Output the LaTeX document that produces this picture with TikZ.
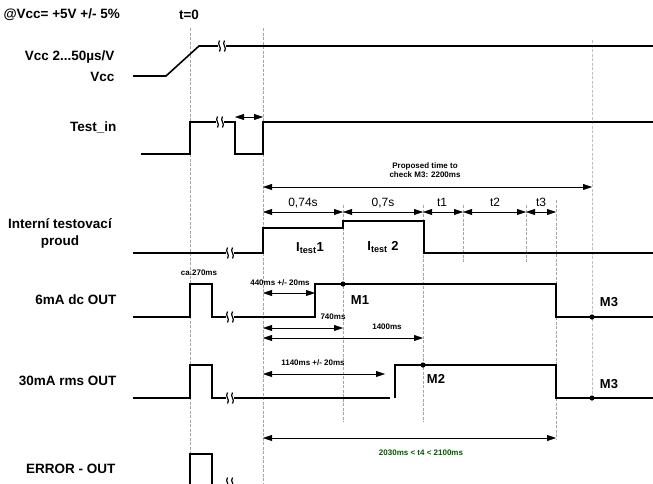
\documentclass[tikz,border=0pt]{standalone}
\usepackage{fontspec}
\setmainfont{Liberation Sans}
\usetikzlibrary{arrows.meta}

\begin{document}
\begin{tikzpicture}[x=1pt,y=-1pt,>={Triangle[length=9pt,width=6pt]},
  sig/.style={line width=1.6pt},
  guide/.style={black!35,line width=0.4pt,dash pattern=on 3pt off 1.5pt},
  dim/.style={<->,line width=0.45pt},
  lbl/.style={font=\fontsize{13.5}{17}\selectfont\bfseries},
  tim/.style={font=\fontsize{12}{14}\selectfont},
  sml/.style={font=\fontsize{8}{9.5}\selectfont\bfseries},
  mk/.style={font=\fontsize{13}{15}\selectfont\bfseries},
  brk/.pic={\fill[white] (-4,-5) rectangle (4,5);
    \draw[line width=1.2pt] (-2.5,-5.5) .. controls (-5.5,-1.5) and (0.5,1.5) .. (-2.5,5.5);
    \draw[line width=1.2pt] (2.5,-5.5) .. controls (-0.5,-1.5) and (5.5,1.5) .. (2.5,5.5);}]
  \useasboundingbox (0,0) rectangle (653,483);
  % pomocne cary
  \draw[guide] (190,28)--(190,483);
  \draw[guide] (263,28)--(263,483);
  \draw[guide] (343,205)--(343,422);
  \draw[guide] (423,205)--(423,422);
  \draw[guide] (463,205)--(463,262);
  \draw[guide] (526,205)--(526,262);
  \draw[guide] (556,200)--(556,440);
  \draw[guide,black!25,line width=0.8pt] (592,40)--(592,400);
  % popisky radku
  \node[lbl,anchor=west] (hdr) at (0,15) {@Vcc= +5V +/- 5\%};
  \node[lbl] (tzero) at (189,15) {t=0};
  \node[lbl,anchor=east] (lvcc) at (118,57) {Vcc 2...50µs/V};
  \node[lbl,anchor=east] (lvcc2) at (118,77) {Vcc};
  \node[lbl,anchor=east] (ltest) at (120,127) {Test\_in};
  \node[lbl,align=center] (lproud) at (60,233) {Interní testovací\\proud};
  \node[lbl,anchor=east] (l6ma) at (120,300) {6mA dc OUT};
  \node[lbl,anchor=east] (l30ma) at (120,381) {30mA rms OUT};
  \node[lbl,anchor=east] (lerr) at (119,469) {ERROR - OUT};
  % Vcc
  \draw[sig] (133,76)--(166,76)--(199,46)--(653,46);
  \pic at (222,46) {brk};
  % Test_in
  \draw[sig] (141,154)--(190,154)--(190,122)--(235,122)--(235,154)--(263,154)--(263,122)--(653,122);
  \pic at (220,122) {brk};
  \draw[dim] (235,117)--(263,117);
  % navrzeny cas
  \node[sml,align=center] (prop) at (425,170) {Proposed time to\\check M3: 2200ms};
  \draw[dim] (263,187)--(592,187);
  % casove useky
  \draw[dim] (263,212)--(343,212);
  \draw[dim] (343,212)--(423,212);
  \draw[dim] (423,212)--(463,212);
  \draw[dim] (463,212)--(526,212);
  \draw[dim] (526,212)--(556,212);
  \node[tim] (d1) at (303,203) {0,74s};
  \node[tim] (d2) at (383,203) {0,7s};
  \node[tim] (d3) at (442,202) {t1};
  \node[tim] (d4) at (495,202) {t2};
  \node[tim] (d5) at (541,202) {t3};
  % testovaci proud
  \draw[sig] (133,253)--(263,253)--(263,228)--(343,228)--(343,221)--(424,221)--(424,253)--(653,253);
  \pic at (230,253) {brk};
  \node[mk] (it1) at (310,248) {I\textsubscript{test}1};
  \node[mk] (it2) at (383,247) {I\textsubscript{test} 2};
  % 6mA
  \draw[sig] (133,317)--(190,317)--(190,284)--(212,284)--(212,317)--(315,317)--(315,284)--(556,284)--(556,317)--(653,317);
  \pic at (230,317) {brk};
  \fill (343,284) circle (2.6);
  \fill (592,317) circle (2.6);
  \node[mk] (m1) at (360,300) {M1};
  \node[mk] (m3a) at (609,302) {M3};
  \node[sml] (ca) at (199,273) {ca.270ms};
  \node[sml] (t440) at (280,283) {440ms +/- 20ms};
  \draw[dim] (263,293)--(315,293);
  \node[sml] (t740) at (333,317) {740ms};
  \draw[dim] (263,328)--(343,328);
  \node[sml] (t1400) at (387,327) {1400ms};
  \draw[dim] (263,338)--(423,338);
  % 30mA
  \draw[sig] (133,398)--(190,398)--(190,365)--(212,365)--(212,398)--(390,398);
  \draw[sig] (395,398)--(395,365)--(556,365)--(556,398)--(653,398);
  \pic at (230,398) {brk};
  \fill (423,365) circle (2.6);
  \fill (592,398) circle (2.6);
  \node[mk] (m2) at (436,379) {M2};
  \node[mk] (m3b) at (609,384) {M3};
  \node[sml] (t1140) at (313,363) {1140ms +/- 20ms};
  \draw[dim] (263,374)--(385,374);
  % t4
  \draw[dim] (263,438)--(556,438);
  \node[sml,text=green!35!black,font=\fontsize{8}{9}\selectfont\bfseries] (t4) at (421,453) {2030ms < t4 < 2100ms};
  % chyba
  \draw[sig] (190,492)--(190,454)--(212,454)--(212,492);
  \pic at (230,483) {brk};
\end{tikzpicture}
\end{document}
